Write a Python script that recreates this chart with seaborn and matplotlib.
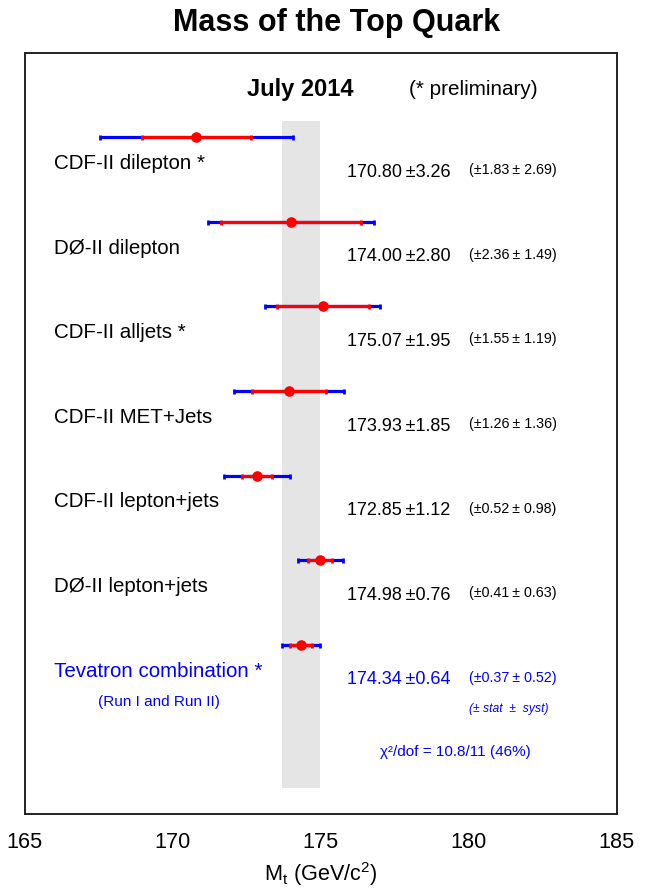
import matplotlib
matplotlib.use("Agg")
import matplotlib.pyplot as plt
import seaborn as sns
import pandas as pd

# measurements (GeV/c^2)
labels = ["CDF-II dilepton *", "DØ-II dilepton", "CDF-II alljets *",
          "CDF-II MET+Jets", "CDF-II lepton+jets", "DØ-II lepton+jets",
          "Tevatron combination *"]
mass = [170.80, 174.00, 175.07, 173.93, 172.85, 174.98, 174.34]
total_err = [3.26, 2.80, 1.95, 1.85, 1.12, 0.76, 0.64]
stat_err = [1.83, 2.36, 1.55, 1.26, 0.52, 0.41, 0.37]
syst_err = [2.69, 1.49, 1.19, 1.36, 0.98, 0.63, 0.52]

xticks = [165, 170, 175, 180, 185]

sns.set_theme(style="white")
plt.rcParams["font.family"] = ["Liberation Sans", "DejaVu Sans"]
plt.rcParams["mathtext.fontset"] = "custom"
plt.rcParams["mathtext.rm"] = "Liberation Sans"
plt.rcParams["text.color"] = "black"
plt.rcParams["axes.labelcolor"] = "black"
plt.rcParams["xtick.labelcolor"] = "black"

df = pd.DataFrame({"label": labels, "mass": mass, "total": total_err,
                   "stat": stat_err, "syst": syst_err})
df["row"] = range(len(df))

fig = plt.figure(figsize=(6.53, 8.88), dpi=100)
ax = fig.add_axes([0.0378, 0.0833, 0.9066, 0.8574])

BLUE = "#0000FF"
RED = "#FF0000"

# combination band
comb = df.iloc[-1]
ax.fill_betweenx([-0.19, 7.69], comb["mass"] - comb["total"],
                 comb["mass"] + comb["total"], color="#E5E5E5", lw=0, zorder=0)

# total (blue) and stat (red) error bars
ax.errorbar(df["mass"], df["row"], xerr=df["total"], fmt="none",
            ecolor=BLUE, elinewidth=2.3, capsize=1.8, capthick=2, zorder=2)
ax.errorbar(df["mass"], df["row"], xerr=df["stat"], fmt="none",
            ecolor=RED, elinewidth=2.3, capsize=1.8, capthick=2, zorder=3)
sns.scatterplot(data=df, x="mass", y="row", color=RED, s=58,
                edgecolor=RED, linewidth=0, zorder=4, ax=ax)

for _, r in df.iterrows():
    col = BLUE if r["row"] == len(df) - 1 else "black"
    ax.text(166.0, r["row"] + 0.31, r["label"], fontsize=14.8,
            color=col, va="center", ha="left")
    ax.text(175.89, r["row"] + 0.415, f"{r['mass']:.2f}\u2009±{r['total']:.2f}",
            fontsize=13, color=col, va="center", ha="left")
    ax.text(180.0, r["row"] + 0.39, f"(±{r['stat']:.2f}\u2009± {r['syst']:.2f})",
            fontsize=10.3, color=col, va="center", ha="left")

ax.text(169.54, 6.68, "(Run I and Run II)", fontsize=11, color=BLUE,
        ha="center", va="center")
ax.text(180.0, 6.76, "(± stat  ±  syst)", fontsize=8.7, color=BLUE,
        ha="left", va="center", style="italic")
ax.text(179.55, 7.27, "χ²/dof = 10.8/11 (46%)", fontsize=11, color=BLUE,
        ha="center", va="center")
ax.text(174.30, -0.56, "July 2014", fontsize=17, fontweight="bold",
        ha="center", va="center")
ax.text(180.14, -0.56, "(* preliminary)", fontsize=14.9,
        ha="center", va="center")

ax.set_xlim(165, 185)
ax.set_ylim(8, -1)
ax.set_xticks(xticks)
ax.set_yticks([])
ax.set_ylabel("")
ax.tick_params(axis="x", direction="in", length=16.5, width=1,
               color="#444444", labelsize=15.6, pad=13)
ax.set_xlabel(r"M$_\mathrm{t}$ (GeV/c$^\mathrm{2}$)", fontsize=15.6, labelpad=5)

for side in ["left", "right", "top", "bottom"]:
    ax.spines[side].set_visible(True)
    ax.spines[side].set_color("#222222")
    ax.spines[side].set_linewidth(1.4)

fig.text(0.516, 0.974, "Mass of the Top Quark", fontsize=22,
         fontweight="bold", ha="center", va="center")

fig.savefig("out.png", dpi=100)
